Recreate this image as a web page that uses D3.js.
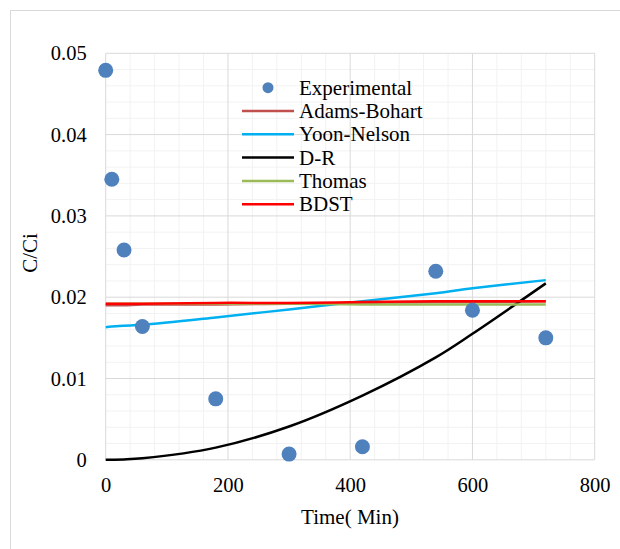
<!DOCTYPE html>
<html><head><meta charset="utf-8">
<script src="https://cdn.jsdelivr.net/npm/d3@7"></script>
</head><body style="margin:0">
<svg id="chart" width="620" height="549" style="display:block;font-family:'Liberation Serif',serif"></svg>
<script>
const time = [0, 10, 30, 60, 180, 300, 420, 540, 600, 720];
const experimental = [0.0479, 0.0345, 0.0258, 0.0164, 0.0075, 0.0007, 0.0016, 0.0232, 0.0184, 0.0150];
const adamsBohart = [0.0190, 0.0190, 0.0190, 0.0191, 0.0191, 0.0192, 0.0193, 0.0194, 0.0194, 0.0195];
const yoonNelson = [0.0163, 0.0164, 0.0165, 0.0166, 0.0175, 0.0185, 0.0195, 0.0205, 0.0211, 0.0221];
const dR = [0, 0.00001, 0.00004, 0.00018, 0.0015, 0.0041, 0.0079, 0.0126, 0.0155, 0.0217];
const thomas = [0.0192, 0.0192, 0.0192, 0.0192, 0.0192, 0.0192, 0.0191, 0.0191, 0.0191, 0.0191];
const bdst = [0.0192, 0.0192, 0.0192, 0.0192, 0.0193, 0.0193, 0.0194, 0.0195, 0.0195, 0.0195];
const xTicks = [0, 200, 400, 600, 800];
const yTicks = [0, 0.01, 0.02, 0.03, 0.04, 0.05];
const yTickLabels = ["0", "0.01", "0.02", "0.03", "0.04", "0.05"];
const seriesNames = ["Adams-Bohart", "Yoon-Nelson", "D-R", "Thomas", "BDST"];
const seriesColors = ["#C0504D", "#00B0F0", "#000000", "#9BBB59", "#FF0000"];
const seriesData = [adamsBohart, yoonNelson, dR, thomas, bdst];

const svg = d3.select("#chart");
const FONT = '"Liberation Serif", serif';

svg.append("rect").attr("x", 10.5).attr("y", 10.5).attr("width", 640).attr("height", 560)
  .attr("fill", "#fff").attr("stroke", "#D9D9D9").attr("stroke-width", 1);

const x = d3.scaleLinear().domain([0, 800]).range([105.7, 594.7]);
const y = d3.scaleLinear().domain([0, 0.05]).range([459.8, 53.3]);

const g = svg.append("g");
d3.range(0, 801, 40).forEach(v => {
  if (v % 200 !== 0) g.append("line").attr("x1", x(v)).attr("x2", x(v)).attr("y1", y(0)).attr("y2", y(0.05))
    .attr("stroke", "#F2F2F2").attr("stroke-width", 1);
});
d3.range(0, 26).forEach(i => {
  if (i % 5 !== 0) { const v = i * 0.002;
    g.append("line").attr("x1", x(0)).attr("x2", x(800)).attr("y1", y(v)).attr("y2", y(v))
      .attr("stroke", "#F2F2F2").attr("stroke-width", 1); }
});
xTicks.forEach(v => g.append("line").attr("x1", x(v)).attr("x2", x(v)).attr("y1", y(0)).attr("y2", y(0.05))
  .attr("stroke", "#D9D9D9").attr("stroke-width", 1));
yTicks.forEach(v => g.append("line").attr("x1", x(0)).attr("x2", x(800)).attr("y1", y(v)).attr("y2", y(v))
  .attr("stroke", "#D9D9D9").attr("stroke-width", 1));

const xAxis = d3.axisBottom(x).tickValues(xTicks).tickSize(0).tickPadding(18).tickFormat(d3.format("d"));
const ax = svg.append("g").attr("transform", `translate(0,${y(0)})`).call(xAxis)
  .attr("font-family", null).attr("font-size", null);
ax.select(".domain").remove();
ax.selectAll("text").style("font-family", FONT).attr("font-size", 20.5).attr("fill", "#000");

const yAxis = d3.axisLeft(y).tickValues(yTicks).tickSize(0).tickPadding(19).tickFormat((d, i) => yTickLabels[i]);
const ay = svg.append("g").attr("transform", `translate(${x(0)},0)`).call(yAxis)
  .attr("font-family", null).attr("font-size", null);
ay.select(".domain").remove();
ay.selectAll("text").style("font-family", FONT).attr("font-size", 20.5).attr("fill", "#000");

const line = d3.line().curve(d3.curveCatmullRom.alpha(0.5));
seriesData.forEach((vals, k) => {
  svg.append("path").datum(time.map((t, i) => [x(t), y(vals[i])]))
    .attr("d", line).attr("fill", "none").attr("stroke", seriesColors[k]).attr("stroke-width", 2.5);
});

svg.selectAll("circle.pt").data(time).enter().append("circle").attr("class", "pt")
  .attr("cx", d => x(d)).attr("cy", (d, i) => y(experimental[i])).attr("r", 7.5).attr("fill", "#4F81BD");

svg.append("text").attr("x", 350).attr("y", 524).attr("text-anchor", "middle")
  .style("font-family", FONT).attr("font-size", 21).text("Time( Min)");
svg.append("text").attr("transform", "translate(37,253) rotate(-90)").attr("text-anchor", "middle")
  .style("font-family", FONT).attr("font-size", 21).text("C/Ci");

const lg = svg.append("g");
const rowY0 = 87.7, rowDy = 23.3;
lg.append("circle").attr("cx", 268).attr("cy", rowY0).attr("r", 5.5).attr("fill", "#4F81BD");
lg.append("text").attr("x", 299).attr("y", rowY0 + 7).style("font-family", FONT).attr("font-size", 21).text("Experimental");
seriesNames.forEach((n, k) => {
  const yy = rowY0 + rowDy * (k + 1);
  lg.append("line").attr("x1", 242).attr("x2", 294).attr("y1", yy).attr("y2", yy)
    .attr("stroke", seriesColors[k]).attr("stroke-width", 2.5);
  lg.append("text").attr("x", 299).attr("y", yy + 7).style("font-family", FONT).attr("font-size", 21).text(n);
});
</script>
</body></html>
